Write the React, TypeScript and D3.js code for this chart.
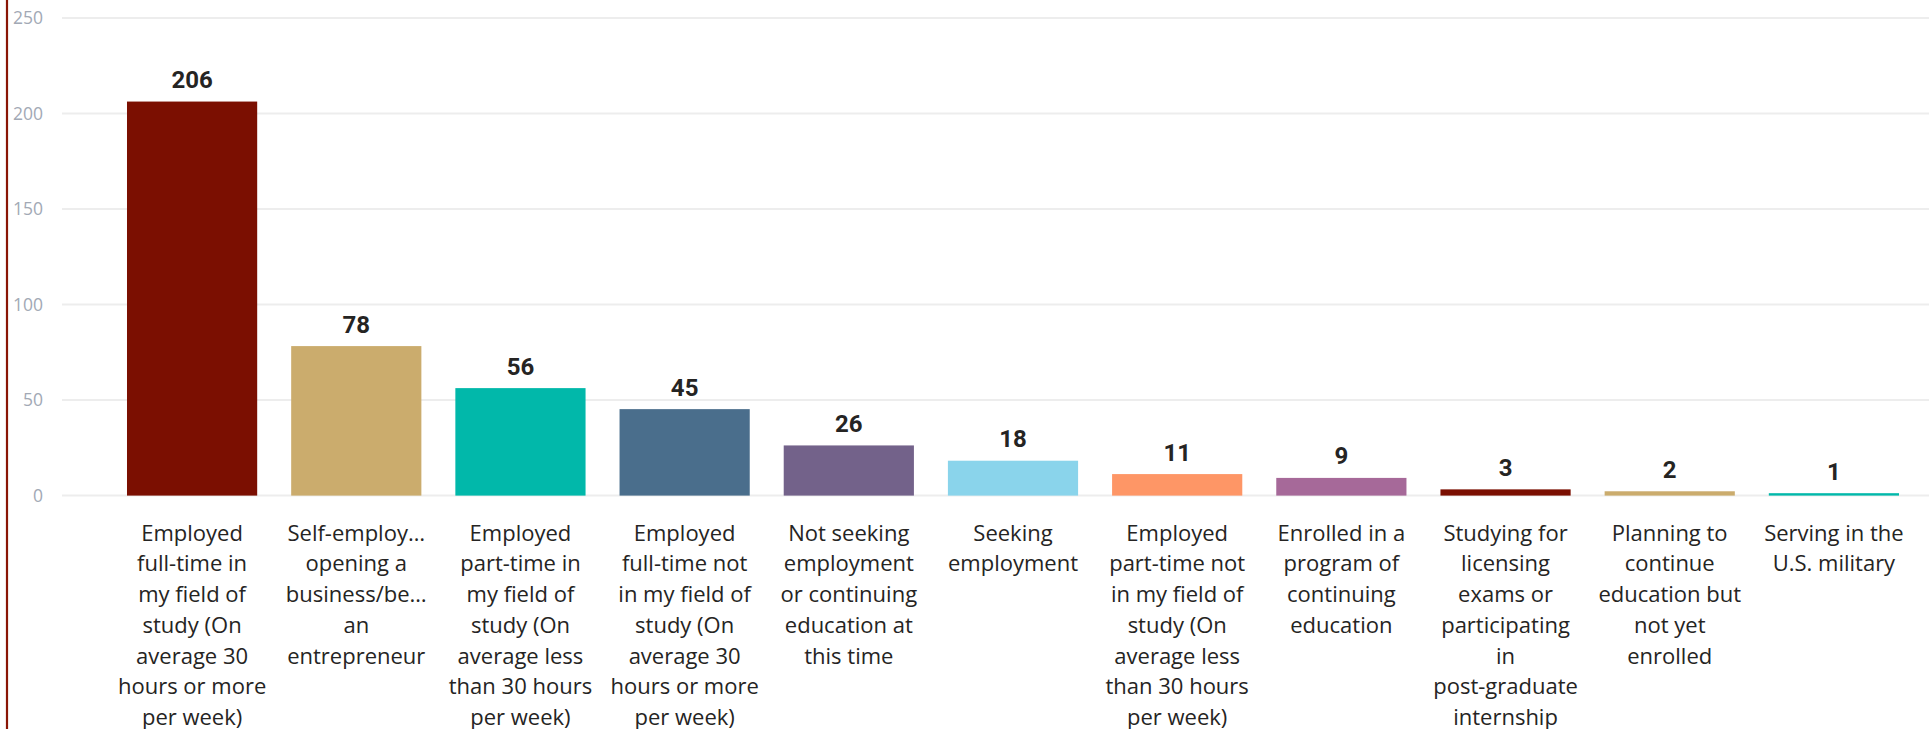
import { useEffect, useRef } from 'react';
import * as d3 from 'd3';

// wrapped category labels as they appear under each bar
const tickLabels: string[][] = [
  ['Employed', 'full-time in', 'my field of', 'study (On', 'average 30', 'hours or more', 'per week)'],
  ['Self-employ…', 'opening a', 'business/be…', 'an', 'entrepreneur'],
  ['Employed', 'part-time in', 'my field of', 'study (On', 'average less', 'than 30 hours', 'per week)'],
  ['Employed', 'full-time not', 'in my field of', 'study (On', 'average 30', 'hours or more', 'per week)'],
  ['Not seeking', 'employment', 'or continuing', 'education at', 'this time'],
  ['Seeking', 'employment'],
  ['Employed', 'part-time not', 'in my field of', 'study (On', 'average less', 'than 30 hours', 'per week)'],
  ['Enrolled in a', 'program of', 'continuing', 'education'],
  ['Studying for', 'licensing', 'exams or', 'participating', 'in', 'post-graduate', 'internship'],
  ['Planning to', 'continue', 'education but', 'not yet', 'enrolled'],
  ['Serving in the', 'U.S. military'],
];

const categories = tickLabels.map((lines) => lines.join(' '));

const counts = [206, 78, 56, 45, 26, 18, 11, 9, 3, 2, 1];

const barColors = [
  '#7b0f01',
  '#cbac6d',
  '#01b8aa',
  '#4a6e8c',
  '#73628a',
  '#8ad4eb',
  '#fe9666',
  '#a66999',
  '#7b0f01',
  '#cbac6d',
  '#01b8aa',
];

const yTicks = [0, 50, 100, 150, 200, 250];

const WIDTH = 1929;
const HEIGHT = 729;

export default function App() {
  const svgRef = useRef<SVGSVGElement>(null);

  useEffect(() => {
    document.body.style.margin = '0';
    if (!svgRef.current) return;

    const svg = d3.select(svgRef.current);
    svg.selectAll('*').remove();
    svg.attr('width', WIDTH).attr('height', HEIGHT);

    const yScale = d3.scaleLinear().domain([0, 250]).range([495.6, 18]);

    const xScale = d3
      .scaleBand<string>()
      .domain(categories)
      .range([110, 1916])
      .paddingInner(0.207)
      .paddingOuter(0.1035);

    // left frame line
    svg
      .append('line')
      .attr('x1', 7)
      .attr('x2', 7)
      .attr('y1', 0)
      .attr('y2', HEIGHT)
      .attr('stroke', '#8a1606')
      .attr('stroke-width', 2.2);

    // grid lines
    svg
      .selectAll('.grid-line')
      .data(yTicks)
      .enter()
      .append('line')
      .attr('class', 'grid-line')
      .attr('x1', 62)
      .attr('x2', WIDTH)
      .attr('y1', (d) => yScale(d))
      .attr('y2', (d) => yScale(d))
      .attr('stroke', '#ededed')
      .attr('stroke-width', 2);

    // y-axis labels
    svg
      .selectAll('.y-label')
      .data(yTicks)
      .enter()
      .append('text')
      .attr('class', 'y-label')
      .attr('x', 43)
      .attr('y', (d) => yScale(d))
      .attr('dy', '0.35em')
      .attr('text-anchor', 'end')
      .attr('fill', '#a2a9b5')
      .attr('font-family', "'Segoe UI', 'Open Sans', sans-serif")
      .attr('font-size', '17.5px')
      .text((d) => d);

    // bars
    svg
      .selectAll('.bar')
      .data(counts)
      .enter()
      .append('rect')
      .attr('class', 'bar')
      .attr('x', (_, i) => xScale(categories[i]) ?? 0)
      .attr('width', xScale.bandwidth())
      .attr('y', (d) => yScale(d) - 0.5)
      .attr('height', (d) => yScale(0) - yScale(d) + 0.5)
      .attr('fill', (_, i) => barColors[i]);

    // value labels
    svg
      .selectAll('.value-label')
      .data(counts)
      .enter()
      .append('text')
      .attr('class', 'value-label')
      .attr('x', (_, i) => (xScale(categories[i]) ?? 0) + xScale.bandwidth() / 2)
      .attr('y', (d) => yScale(d) - 14)
      .attr('text-anchor', 'middle')
      .attr('fill', '#252423')
      .attr('font-family', 'Roboto, sans-serif')
      .attr('font-weight', 'bold')
      .attr('font-size', '24px')
      .text((d) => d);

    // category labels
    const labelGroups = svg
      .selectAll('.x-label')
      .data(tickLabels)
      .enter()
      .append('text')
      .attr('class', 'x-label')
      .attr('text-anchor', 'middle')
      .attr('fill', '#252423')
      .attr('font-family', "'Segoe UI', 'Open Sans', sans-serif")
      .attr('font-size', '22px');

    labelGroups
      .selectAll('tspan')
      .data((d, i) => d.map((line) => ({ line, i })))
      .enter()
      .append('tspan')
      .attr('x', (d) => (xScale(categories[d.i]) ?? 0) + xScale.bandwidth() / 2)
      .attr('y', (_, j) => 540.7 + j * 30.7)
      .text((d) => d.line);
  }, []);

  return <svg ref={svgRef} style={{ display: 'block' }} />;
}
